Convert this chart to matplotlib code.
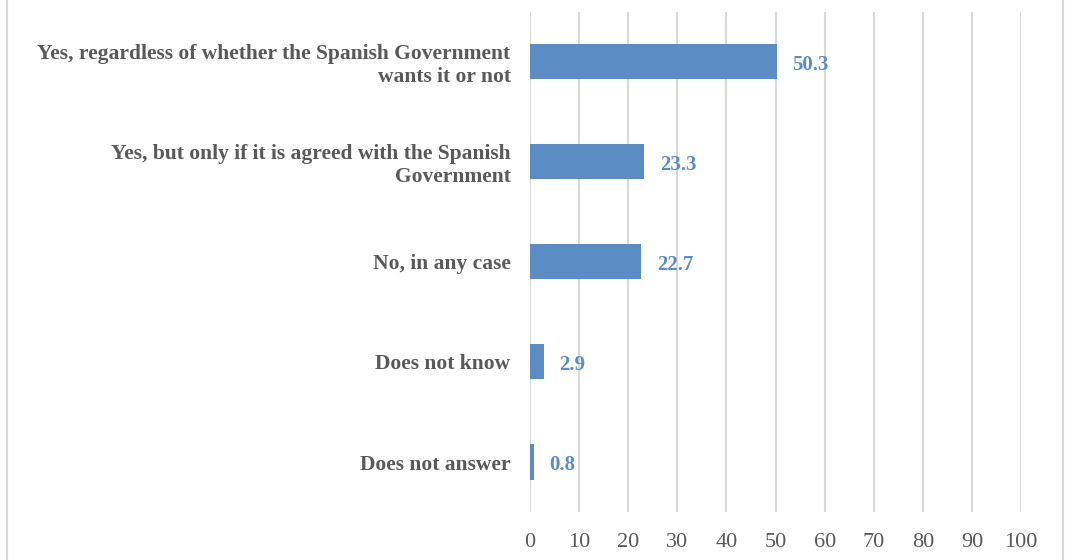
from matplotlib import pyplot as plt
from matplotlib.lines import Line2D

categories = [
    'Yes, regardless of whether the Spanish Government\nwants it or not',
    'Yes, but only if it is agreed with the Spanish\nGovernment',
    'No, in any case',
    'Does not know',
    'Does not answer',
]
values = [50.3, 23.3, 22.7, 2.9, 0.8]
xticks = list(range(0, 101, 10))

bar_color = '#5b8cc4'
grid_color = '#d9d9d9'
text_gray = '#595959'

plt.rcParams['font.family'] = ['Liberation Serif', 'DejaVu Serif']

fig = plt.figure(figsize=(10.65, 5.6), dpi=100)
ax = fig.add_axes([0.4977, 0.0857, 0.461, 0.893])

ypos = list(range(len(categories)))
ax.barh(ypos, values, height=0.35, color=bar_color, zorder=3)
for y, v in zip(ypos, values):
    ax.annotate(f'{v:.1f}', xy=(v, y), xytext=(11, -2), textcoords='offset points',
                va='center', ha='left', color=bar_color, fontsize=15, fontweight='bold')

ax.set_ylim(len(categories) - 0.5, -0.5)
ax.set_xlim(0, 100)
ax.set_xticks(xticks)
ax.set_yticks(ypos)
ax.set_yticklabels(categories, fontsize=15.5, fontweight='bold', color=text_gray,
                   multialignment='right', linespacing=1.15)
ax.tick_params(axis='y', length=0, pad=14)
ax.tick_params(axis='x', length=0, pad=15, labelsize=16, labelcolor=text_gray)
ax.grid(axis='x', color=grid_color, linewidth=1.5, zorder=0)
for s in ax.spines.values():
    s.set_visible(False)

# outer frame lines at left and right edge
fig.add_artist(Line2D([7 / 1065, 7 / 1065], [0, 1], color=grid_color, linewidth=1.5))
fig.add_artist(Line2D([1063 / 1065, 1063 / 1065], [0, 1], color=grid_color, linewidth=1.5))

fig.savefig('out.png', dpi=100)
